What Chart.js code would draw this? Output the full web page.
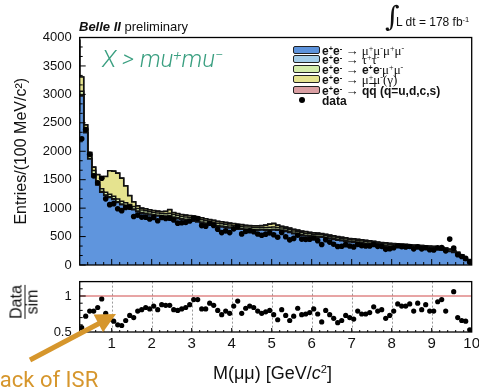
<!DOCTYPE html>
<html>
<head>
<meta charset="utf-8">
<script src="https://cdn.jsdelivr.net/npm/chart.js@4.4.1/dist/chart.umd.min.js"></script>
<style>
  html, body { margin: 0; padding: 0; background: #fff; }
  #wrap { position: relative; width: 479px; height: 387px; overflow: hidden;
          font-family: "Liberation Sans", Arial, sans-serif; color: #111; }
  canvas { position: absolute; left: 0; top: 0; }
  .txt { position: absolute; white-space: nowrap; }
  sup { font-size: 0.62em; line-height: 0; vertical-align: 0.5em; }
  .sw { position: absolute; left: 293px; width: 25px; height: 6px;
        border: 1px solid #222; border-radius: 2px; }
  .leg { position: absolute; left: 322px; font-size: 12px; line-height: 12px; white-space: nowrap; }
  .leg b { font-weight: bold; }
  .gr { font-family: "Liberation Serif", "DejaVu Serif", serif; font-size: 13px; }
</style>
</head>
<body>
<div id="wrap">
  <canvas id="main" width="479" height="387"></canvas>
  <canvas id="ratio" width="479" height="387"></canvas>

  <div class="txt" style="left:79px; top:20px; font-size:13px; line-height:13px;"><b><i>Belle II</i></b> preliminary</div>
  <div class="txt" style="left:385px; top:3px; font-family:'DejaVu Serif', serif; font-size:28px; line-height:28px;">∫</div>
  <div class="txt" style="left:396px; top:16px; font-size:12px; line-height:12px;">L dt = 178 fb<sup>-1</sup></div>

  <div class="txt" style="left:102px; top:47px; font-family:Roboto, sans-serif; font-weight:300; font-style:italic; font-size:24px; line-height:24px; color:#3a9f80;">X &gt; mu<sup>+</sup>mu<sup>−</sup></div>

  <!-- legend -->
  <div class="sw" style="top:46px; background:#5d93dc;"></div>
  <div class="leg" style="top:45px;"><b>e<sup>+</sup>e<sup>-</sup></b> <span class="gr">→ μ<sup>+</sup>μ<sup>-</sup>μ<sup>+</sup>μ<sup>-</sup></span></div>
  <div class="sw" style="top:55px; background:#a4cdea;"></div>
  <div class="leg" style="top:54px;"><b>e<sup>+</sup>e<sup>-</sup></b> <span class="gr">→ τ<sup>+</sup>τ<sup>-</sup></span></div>
  <div class="sw" style="top:65px; background:#d5edab;"></div>
  <div class="leg" style="top:64px;"><b>e<sup>+</sup>e<sup>-</sup></b> <span class="gr">→</span> <b>e<sup>+</sup>e<sup>-</sup></b><span class="gr">μ<sup>+</sup>μ<sup>-</sup></span></div>
  <div class="sw" style="top:75px; background:#e5e38f;"></div>
  <div class="leg" style="top:74px;"><b>e<sup>+</sup>e<sup>-</sup></b> <span class="gr">→ μ<sup>+</sup>μ<sup>-</sup>(γ)</span></div>
  <div class="sw" style="top:86px; background:#d99ea2;"></div>
  <div class="leg" style="top:85px;"><b>e<sup>+</sup>e<sup>-</sup></b> <span class="gr">→</span> <b>q<span style="text-decoration:overline;">q</span> (q=u,d,c,s)</b></div>
  <div class="txt" style="left:299px; top:97px; width:6px; height:6px; border-radius:50%; background:#000;"></div>
  <div class="leg" style="top:95px;"><b>data</b></div>

  <!-- ratio y title -->
  <div class="txt" style="left:24px; top:302px; transform:translate(-50%,-50%) rotate(-90deg); text-align:center; font-size:16px;">
    <div style="line-height:16px;">Data</div>
    <div style="line-height:14px; border-top:1px solid #111;">sim</div>
  </div>

  <div class="txt" style="left:213px; top:364px; font-size:18px; line-height:18px;">M(μμ) [GeV/<i>c</i><sup>2</sup>]</div>

  <svg width="479" height="387" style="position:absolute; left:0; top:0;">
    <line x1="30" y1="360" x2="99" y2="323.5" stroke="#d6962c" stroke-width="5"/>
    <polygon points="116,314 93.6,314.6 103,332.2" fill="#d6962c"/>
  </svg>
  <div class="txt" style="left:-12px; top:369px; font-family:Roboto, sans-serif; font-size:22px; line-height:22px; color:#d6962c;">Lack of ISR</div>
</div>

<script>
/*********************************************************
 * BINNING  (100 MeV bins, 0.2 - 10 GeV)
 *********************************************************/
const massMin = 0.2;
const massMax = 10;
const binWidth = 0.1;
const binLow = Array.from({ length: 98 }, (_, i) => +(massMin + i * binWidth).toFixed(1));

const massTicks  = [1, 2, 3, 4, 5, 6, 7, 8, 9, 10];
const ratioTicks = [0.5, 1];

/*********************************************************
 * MC STACK (entries per bin)
 *********************************************************/
const mu4 = [
  2700, 2970, 2325, 1865, 1595, 1405, 1280, 1220, 1185, 1150,
  1100, 1060, 1035, 1005,  970,  935,  910,  895,  880,  870,
   860,  850,  845,  855,  830,  815,  800,  790,  780,  770,
   755,  740,  725,  710,  695,  680,  670,  660,  650,  640,
   630,  630,  620,  615,  610,  610,  615,  610,  610,  615,
   610,  600,  590,  570,  550,  535,  520,  510,  500,  490,
   485,  487,  478,  464,  449,  435,  426,  414,  404,  396,
   388,  381,  371,  361,  351,  341,  334,  328,  321,  316,
   311,  306,  301,  296,  291,  286,  287,  283,  279,  275,
   267,  260,  250,  236,  219,  196,  159,   81
];
const tautau = [
   5,  6,  8,  9, 10, 11, 12, 12, 13, 13,
  14, 14, 14, 15, 15, 15, 15, 16, 15, 15,
  16, 15, 15, 15, 16, 15, 15, 16, 15, 15,
  16, 15, 15, 15, 16, 15, 15, 15, 16, 15,
  15, 15, 15, 16, 15, 15, 15, 15, 16, 15,
  15, 15, 15, 15, 14, 15, 15, 14, 15, 14,
  14, 13, 12, 12, 13, 12, 12, 12, 13, 12,
  12, 12, 12, 12, 13, 12, 12, 12, 12, 12,
  13, 12, 12, 12, 12, 12, 11, 10, 10, 10,
  10, 10,  8,  7,  6,  5,  4,  3
];
const eemumu = [
  80, 80, 70, 60, 55, 52, 50, 48, 47, 46,
  45, 45, 44, 43, 42, 42, 40, 41, 40, 40,
  39, 40, 40, 41, 40, 40, 39, 40, 40, 40,
  39, 40, 40, 39, 40, 40, 39, 40, 39, 40,
  38, 36, 35, 35, 36, 35, 35, 35, 36, 37,
  35, 35, 34, 35, 35, 34, 35, 34, 34, 35,
  34, 31, 30, 30, 31, 30, 30, 30, 29, 30,
  30, 30, 29, 30, 30, 29, 30, 30, 29, 30,
  29, 29, 30, 29, 29, 29, 28, 27, 27, 27,
  27, 26, 25, 22, 18, 14, 10,  6
];
const mumuGamma = [
  1180, 250,  60,  45,  60, 120, 185, 275, 410, 440,
   455, 405, 295, 155,  80,  45,  32,  31,  30,  30,
    30,  30,  40,  60,  31,  30,  30,  30,  29,  30,
    30,  30,  29,  30,  30,  29,  30,  30,  29,  30,
    30,  26,  25,  25,  25,  25,  26,  40,  55,  60,
    40,  25,  25,  24,  25,  25,  24,  25,  24,  24,
    24,  19,  18,  18,  18,  18,  18,  18,  17,  18,
    18,  18,  17,  18,  18,  18,  17,  18,  18,  17,
    18,  17,  18,  17,  17,  17,  16,  15,  15,  15,
    15,  15,  14,  12,  10,   8,   6,   4
];
const qqbar = [
  0, 0, 1, 1, 2, 2, 3, 3, 3, 3,
  4, 4, 4, 4, 4, 5, 5, 5, 5, 5,
  5, 5, 6, 5, 5, 5, 5, 5, 5, 5,
  5, 5, 5, 5, 5, 5, 5, 5, 5, 5,
  5, 5, 5, 5, 5, 5, 5, 5, 5, 5,
  5, 5, 5, 5, 5, 5, 5, 5, 5, 5,
  5, 4, 4, 4, 4, 4, 4, 4, 4, 4,
  4, 4, 4, 4, 4, 4, 4, 4, 4, 4,
  4, 4, 4, 4, 4, 4, 3, 3, 3, 3,
  3, 3, 3, 3, 2, 2, 1, 1
];

/*********************************************************
 * DATA
 *********************************************************/
const dataCounts = [
  2220, 2383, 1947, 1564, 1445, 1526, 1163, 1061, 1079,  990,
   956, 1010, 1015,  854,  877,  842,  840,  808,  834,  778,
   836,  818,  822,  790,  736,  742,  748,  774,  827,  817,
   693,  681,  734,  696,  628,  570,  600,  570,  636,  679,
   547,  589,  602,  584,  545,  524,  542,  564,  533,  489,
   571,  496,  442,  468,  523,  455,  450,  454,  476,  428,
   360,  444,  403,  366,  324,  330,  358,  335,  318,  363,
   339,  334,  335,  361,  328,  328,  275,  286,  304,  338,
   323,  318,  325,  284,  320,  284,  304,  269,  265,  304,
   306,  249,  455,  297,  179,  149,  117,   50
];
const dataOverSim = [
  0.56, 0.72, 0.79, 0.79, 0.84, 0.96, 0.76, 0.68, 0.65, 0.60,
  0.59, 0.66, 0.73, 0.70, 0.79, 0.81, 0.84, 0.82, 0.86, 0.81,
  0.88, 0.87, 0.87, 0.81, 0.80, 0.82, 0.84, 0.88, 0.95, 0.95,
  0.82, 0.82, 0.90, 0.87, 0.80, 0.74, 0.79, 0.76, 0.86, 0.93,
  0.76, 0.83, 0.86, 0.84, 0.79, 0.76, 0.78, 0.80, 0.74, 0.67,
  0.81, 0.73, 0.66, 0.72, 0.83, 0.74, 0.75, 0.77, 0.82, 0.75,
  0.64, 0.80, 0.74, 0.69, 0.63, 0.66, 0.73, 0.70, 0.68, 0.79,
  0.75, 0.75, 0.77, 0.85, 0.79, 0.81, 0.69, 0.73, 0.79, 0.89,
  0.86, 0.86, 0.89, 0.79, 0.90, 0.81, 0.88, 0.79, 0.79, 0.92,
  0.95, 0.79, 1.52, 1.06, 0.70, 0.66, 0.65, 0.53
];

/*********************************************************
 * HELPERS
 *********************************************************/
const FONT = "'Liberation Sans', Arial, sans-serif";

function histo(values) {
  const pts = values.map((v, i) => ({ x: binLow[i], y: v }));
  pts.push({ x: massMax, y: values[values.length - 1] });
  return pts;
}

function points(values) {
  return values.map((v, i) => ({ x: binLow[i] + binWidth / 2, y: v }));
}

// frame, inside ticks and dotted grid (ROOT look)
const framePlugin = {
  id: "frame",
  beforeDatasetsDraw(chart, args, opts) {
    if (!opts.grid) return;
    const { ctx, chartArea: a, scales: { x } } = chart;
    ctx.save();
    ctx.strokeStyle = "#9a9a9a";
    ctx.lineWidth = 1;
    ctx.setLineDash([2, 2]);
    opts.grid.forEach(v => {
      const px = Math.round(x.getPixelForValue(v)) + 0.5;
      ctx.beginPath();
      ctx.moveTo(px, a.top);
      ctx.lineTo(px, a.bottom);
      ctx.stroke();
    });
    ctx.restore();
  },
  afterDraw(chart, args, opts) {
    const { ctx, chartArea: a, scales: { x, y } } = chart;
    ctx.save();
    ctx.strokeStyle = "#000";
    ctx.lineWidth = 1;
    ctx.beginPath();
    // x ticks every 0.2, long at integers
    for (let j = 2; j < 50; j++) {
      const px = x.getPixelForValue(j * 0.2);
      const len = j % 5 === 0 ? opts.xMajor : opts.xMinor;
      ctx.moveTo(px, a.bottom);
      ctx.lineTo(px, a.bottom - len);
    }
    // y ticks
    for (let j = 0; j <= opts.yCount; j++) {
      const v = y.min + j * opts.yStep;
      const py = y.getPixelForValue(v);
      const len = j % opts.yEvery === 0 ? 6 : 3;
      ctx.moveTo(a.left, py);
      ctx.lineTo(a.left + len, py);
    }
    ctx.stroke();
    ctx.lineWidth = 1.3;
    ctx.strokeRect(a.left, a.top, a.right - a.left, a.bottom - a.top);
    ctx.restore();
  }
};

/*********************************************************
 * MAIN PANEL
 *********************************************************/
const layers = [
  { label: "mumumumu", values: mu4,       color: "#5f95dd" },
  { label: "tautau",   values: tautau,    color: "#a4cdea" },
  { label: "eemumu",   values: eemumu,    color: "#d5edab" },
  { label: "mumu(g)",  values: mumuGamma, color: "#e5e38f" },
  { label: "qq",       values: qqbar,     color: "#d99ea2" }
];

const mainSets = layers.map(l => ({
  label: l.label,
  data: histo(l.values),
  stepped: "after",
  fill: "origin",
  backgroundColor: l.color,
  borderColor: "#111",
  borderWidth: 1.5,
  pointRadius: 0,
  order: 1
}));

mainSets.push({
  label: "data",
  data: points(dataCounts),
  showLine: false,
  pointRadius: 2.8,
  pointBackgroundColor: "#000",
  pointBorderWidth: 0,
  stack: "data",
  order: 0
});

new Chart(document.getElementById("main"), {
  type: "line",
  data: { datasets: mainSets },
  plugins: [framePlugin],
  options: {
    responsive: false,
    animation: false,
    layout: { padding: { left: 0, right: 7.3, top: 37.5, bottom: 122 } },
    plugins: {
      legend: { display: false },
      tooltip: { enabled: false },
      frame: { xMajor: 6, xMinor: 3, yStep: 500 / 3, yCount: 24, yEvery: 3 }
    },
    scales: {
      x: { type: "linear", min: massMin, max: massMax, display: false },
      y: {
        stacked: true,
        min: 0,
        max: 4000,
        afterFit: s => { s.width = 79.7; s.paddingTop = 0; s.paddingBottom = 0; },
        ticks: {
          stepSize: 500, padding: 8, color: "#111",
          font: { family: FONT, size: 13 },
          callback: v => String(v)
        },
        grid: { display: false, drawTicks: false },
        border: { display: false },
        title: {
          display: true,
          text: "Entries/(100 MeV/c²)",
          color: "#111",
          font: { family: FONT, size: 16 },
          padding: { top: 12, bottom: 0 }
        }
      }
    }
  }
});

/*********************************************************
 * RATIO PANEL
 *********************************************************/
new Chart(document.getElementById("ratio"), {
  type: "line",
  data: {
    datasets: [
      {
        label: "unity",
        data: [{ x: massMin, y: 1 }, { x: massMax, y: 1 }],
        borderColor: "#d04a4a",
        borderWidth: 1,
        pointRadius: 0
      },
      {
        label: "data/sim",
        data: points(dataOverSim),
        showLine: false,
        pointRadius: 2.6,
        pointBackgroundColor: "#000",
        pointBorderWidth: 0
      }
    ]
  },
  plugins: [framePlugin],
  options: {
    responsive: false,
    animation: false,
    layout: { padding: { left: 0, right: 7.3, top: 281.6, bottom: 0 } },
    plugins: {
      legend: { display: false },
      tooltip: { enabled: false },
      frame: { grid: [1, 2, 3, 4, 5, 6, 7, 8, 9], xMajor: 4, xMinor: 2, yStep: 0.1, yCount: 7, yEvery: 5 }
    },
    scales: {
      x: {
        type: "linear",
        min: massMin,
        max: massMax,
        afterFit: s => { s.height = 55; s.paddingLeft = 0; s.paddingRight = 0; },
        afterBuildTicks: s => { s.ticks = massTicks.map(v => ({ value: v })); },
        ticks: {
          padding: 3, color: "#111", maxRotation: 0, autoSkip: false,
          font: { family: FONT, size: 15 },
          callback: v => String(v)
        },
        grid: { display: false, drawTicks: false },
        border: { display: false }
      },
      y: {
        min: 0.5,
        max: 1.2,
        afterFit: s => { s.width = 79.7; s.paddingTop = 0; s.paddingBottom = 0; },
        afterBuildTicks: s => { s.ticks = ratioTicks.map(v => ({ value: v })); },
        ticks: { padding: 8, color: "#111", font: { family: FONT, size: 13 }, callback: v => String(v) },
        grid: { display: false, drawTicks: false },
        border: { display: false }
      }
    }
  }
});
</script>
</body>
</html>
